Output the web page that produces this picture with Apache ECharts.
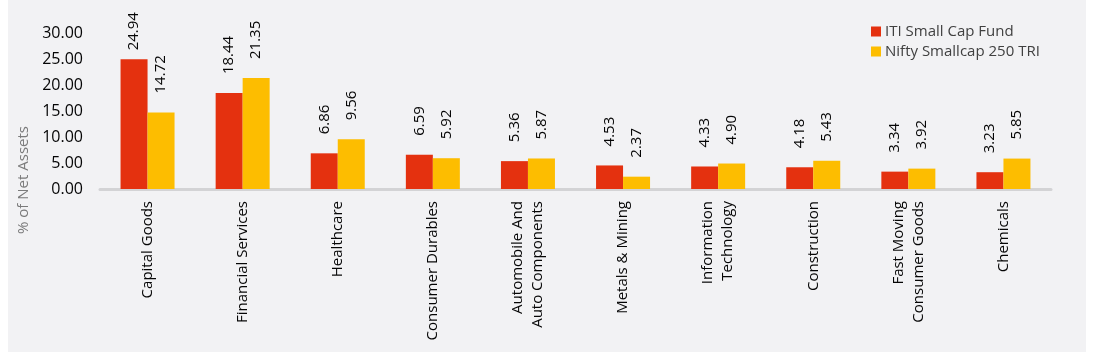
<!DOCTYPE html>
<html>
<head>
<meta charset="utf-8">
<script src="https://cdn.jsdelivr.net/npm/echarts@6/dist/echarts.min.js"></script>
<style>
html,body{margin:0;padding:0;background:#ffffff;}
#c{width:1094px;height:354px;}
</style>
</head>
<body>
<div id="c"></div>
<script>
const categories = ['Capital Goods','Financial Services','Healthcare','Consumer Durables','Automobile And\nAuto Components','Metals & Mining','Information\nTechnology','Construction','Fast Moving\nConsumer Goods','Chemicals'];
const fundValues = [24.94,18.44,6.86,6.59,5.36,4.53,4.33,4.18,3.34,3.23];
const indexValues = [14.72,21.35,9.56,5.92,5.87,2.37,4.90,5.43,3.92,5.85];
const seriesNames = ['ITI Small Cap Fund','Nifty Smallcap 250 TRI'];
const yTicks = {min:0, max:30, interval:5};
const axisTitle = '% of Net Assets';

const FONT = '"Open Sans", sans-serif';
function items(vals){
  return vals.map(v => v > 23 ? {value:v, label:{distance:9}} : v);
}
const labelCfg = {
  show:true, position:'top', rotate:90, align:'left', verticalAlign:'middle',
  distance:19, fontFamily:FONT, fontSize:15, color:'#050505',
  formatter: p => p.value.toFixed(2)
};
const chart = echarts.init(document.getElementById('c'));
chart.setOption({
  backgroundColor:'#ffffff',
  animation:false,
  graphic:[
    {type:'rect', z:-10, shape:{x:8,y:0,width:1078,height:352}, style:{fill:'#f2f2f4'}},
    {type:'text', x:24, y:180, rotation:Math.PI/2,
     style:{text:axisTitle, font:'15px ' + FONT, fill:'#7a7a7a', align:'center', verticalAlign:'middle'}}
  ],
  legend:{
    orient:'vertical', left:866, top:19, itemWidth:10, itemHeight:10, itemGap:5,
    icon:'rect',
    textStyle:{fontFamily:FONT, fontSize:15, color:'#404040', padding:[0,0,0,-1]},
    data:seriesNames
  },
  grid:{left:100, right:43, top:33, bottom:165, containLabel:false},
  xAxis:{
    type:'category', data:categories,
    axisLine:{show:true, lineStyle:{color:'#d3d3d5', width:3}},
    axisTick:{show:false},
    axisLabel:{rotate:90, interval:0, margin:12, fontFamily:FONT, fontSize:15, color:'#050505', lineHeight:20}
  },
  yAxis:{
    type:'value', min:yTicks.min, max:yTicks.max, interval:yTicks.interval,
    axisLine:{show:false}, axisTick:{show:false}, splitLine:{show:false},
    axisLabel:{margin:17, fontFamily:FONT, fontSize:16, color:'#050505', formatter:v => v.toFixed(2)}
  },
  series:[
    {name:seriesNames[0], type:'bar', data:items(fundValues), barWidth:27, barGap:'0%',
     itemStyle:{color:'#e4310f'}, label:labelCfg},
    {name:seriesNames[1], type:'bar', data:items(indexValues), barWidth:27, barGap:'0%',
     itemStyle:{color:'#fdbd00'}, label:labelCfg}
  ]
});
</script>
</body>
</html>
